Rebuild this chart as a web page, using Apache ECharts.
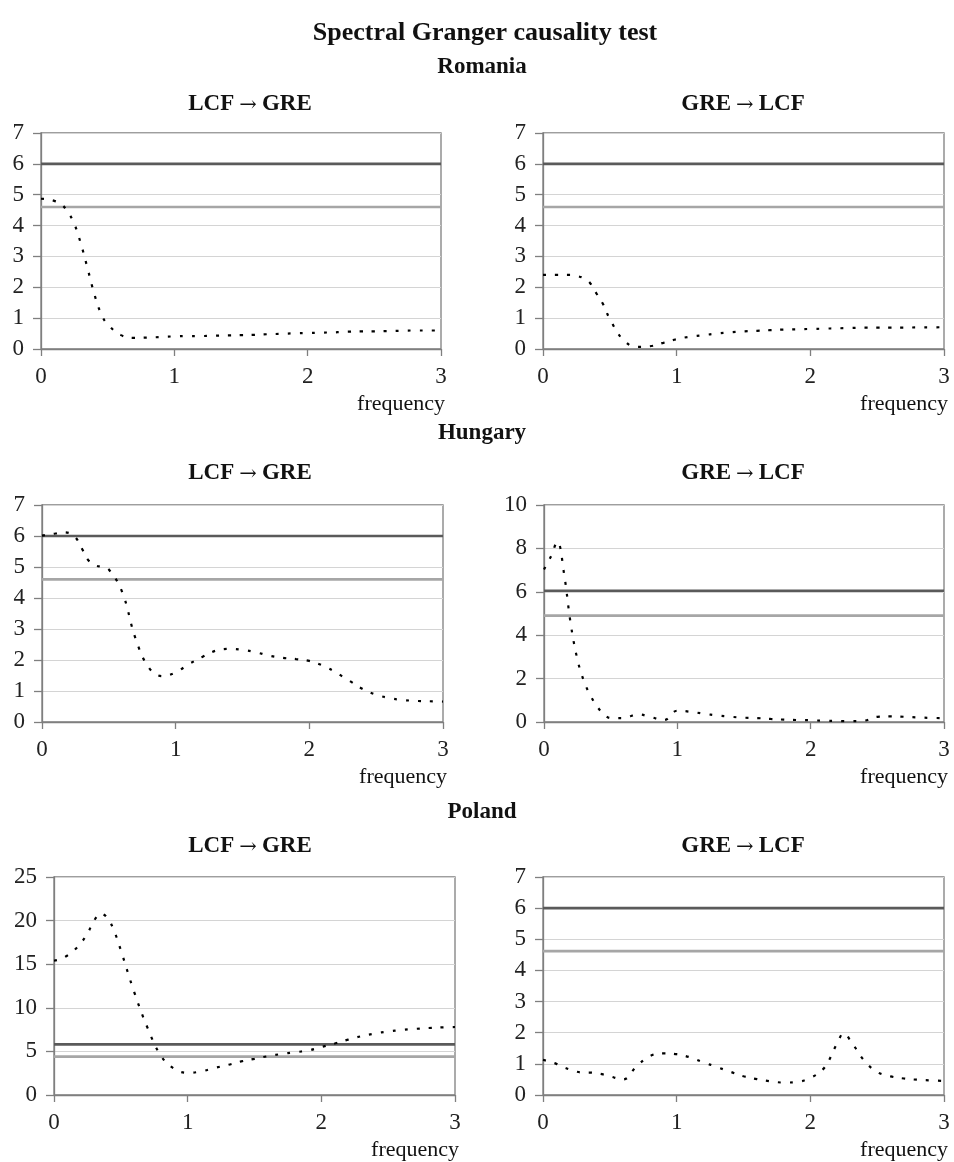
<!DOCTYPE html>
<html>
<head>
<meta charset="utf-8">
<script src="https://cdn.jsdelivr.net/npm/echarts@6/dist/echarts.min.js"></script>
<style>
  html, body { margin: 0; padding: 0; background: #fff; }
  #chart { width: 954px; height: 1162px; }
</style>
</head>
<body>
<div id="chart"></div>
<script>
// frequency grid shared by all six panels
const freq = [0, 0.05, 0.1, 0.15, 0.2, 0.25, 0.3, 0.35, 0.4, 0.45, 0.5,
  0.6, 0.7, 0.8, 0.9, 1.0, 1.1, 1.2, 1.3, 1.4, 1.5, 1.6, 1.7, 1.8, 1.9, 2.0, 2.1, 2.2,
  2.25, 2.3, 2.4, 2.5, 2.6, 2.7, 2.8, 2.9, 3.0]

const romaniaLcfGre = [4.87, 4.85, 4.8, 4.7, 4.45, 4.05, 3.4, 2.6, 1.78, 1.15, 0.8,
  0.45, 0.36, 0.37, 0.39, 0.41, 0.42, 0.42, 0.43, 0.44, 0.45, 0.46, 0.48, 0.49, 0.51, 0.52, 0.53, 0.54,
  0.55, 0.56, 0.57, 0.57, 0.58, 0.59, 0.6, 0.6, 0.6]
const romaniaGreLcf = [2.4, 2.4, 2.4, 2.4, 2.4, 2.37, 2.3, 2.15, 1.8, 1.45, 0.97,
  0.3, 0.07, 0.09, 0.2, 0.32, 0.4, 0.45, 0.5, 0.54, 0.57, 0.59, 0.61, 0.63, 0.64, 0.65, 0.66, 0.67,
  0.675, 0.68, 0.69, 0.69, 0.69, 0.69, 0.7, 0.7, 0.71]
const hungaryLcfGre = [6.01, 6.05, 6.08, 6.12, 6.1, 5.96, 5.58, 5.2, 5.05, 5.0, 4.92,
  4.19, 2.69, 1.75, 1.48, 1.6, 1.87, 2.1, 2.3, 2.36, 2.33, 2.25, 2.14, 2.07, 2.03, 1.97, 1.82, 1.6,
  1.46, 1.33, 1.06, 0.88, 0.77, 0.71, 0.68, 0.67, 0.66]
const hungaryGreLcf = [7.03, 7.6, 8.3, 6.85, 4.54, 2.9, 1.88, 1.2, 0.7, 0.35, 0.18,
  0.18, 0.36, 0.23, 0.09, 0.52, 0.47, 0.38, 0.3, 0.24, 0.2, 0.18, 0.14, 0.11, 0.09, 0.08, 0.06, 0.05,
  0.04, 0.04, 0.06, 0.24, 0.26, 0.24, 0.21, 0.19, 0.18]
const polandLcfGre = [15.4, 15.6, 16.0, 16.6, 17.4, 18.5, 20.0, 20.8, 20.3, 18.8, 16.6,
  11.8, 7.7, 4.5, 3.0, 2.55, 2.7, 3.1, 3.45, 3.85, 4.15, 4.45, 4.7, 4.9, 5.1, 5.5, 5.9, 6.35,
  6.55, 6.75, 7.05, 7.28, 7.45, 7.58, 7.68, 7.75, 7.8]
const polandGreLcf = [1.13, 1.07, 1.0, 0.9, 0.82, 0.75, 0.72, 0.72, 0.7, 0.66, 0.6,
  0.5, 0.92, 1.25, 1.34, 1.31, 1.21, 1.05, 0.9, 0.75, 0.6, 0.51, 0.44, 0.4, 0.42, 0.55, 0.85, 1.65,
  1.98, 1.75, 1.12, 0.74, 0.6, 0.53, 0.49, 0.47, 0.45]

// critical values (dark = upper, light = lower)
const critUpper = [6, 6, 6, 6.05, 5.8, 6]
const critLower = [4.6, 4.6, 4.6, 4.9, 4.4, 4.62]

const yMax = [7, 7, 7, 10, 25, 7]
const yStep = [1, 1, 1, 2, 5, 1]
const xTicks = [0, 1, 2, 3]

const panelSeries = [romaniaLcfGre, romaniaGreLcf, hungaryLcfGre, hungaryGreLcf, polandLcfGre, polandGreLcf]

const titleText = 'Spectral Granger causality test'
const countries = ['Romania', 'Hungary', 'Poland']
const directions = [['LCF', 'GRE'], ['GRE', 'LCF']]

const grids = [
  { left: 41, top: 133, width: 400, height: 216 },
  { left: 543, top: 133, width: 401, height: 216 },
  { left: 42, top: 505, width: 401, height: 217 },
  { left: 544, top: 505, width: 400, height: 217 },
  { left: 54, top: 877, width: 401, height: 218 },
  { left: 543, top: 877, width: 401, height: 218 }
]

const FONT = '"Liberation Serif", "DejaVu Serif", serif'
const frameColor = '#7f7f7f'

const option = {
  backgroundColor: '#fff',
  animation: false,
  grid: grids.map(g => Object.assign({
    show: true, borderColor: frameColor, borderWidth: 1.3, backgroundColor: 'transparent'
  }, g)),
  xAxis: grids.map((g, i) => ({
    type: 'value',
    gridIndex: i,
    min: xTicks[0],
    max: xTicks[xTicks.length - 1],
    interval: 1,
    axisLine: { show: true, lineStyle: { color: frameColor, width: 1.3 } },
    axisTick: { show: true, length: 7, lineStyle: { color: frameColor, width: 1.3 } },
    axisLabel: { margin: 16, color: '#222', fontFamily: FONT, fontSize: 23 },
    splitLine: { show: false }
  })),
  yAxis: grids.map((g, i) => ({
    type: 'value',
    gridIndex: i,
    min: 0,
    max: yMax[i],
    interval: yStep[i],
    axisLine: { show: true, lineStyle: { color: frameColor, width: 1.3 } },
    axisTick: { show: true, length: 8, lineStyle: { color: frameColor, width: 1.3 } },
    axisLabel: { margin: 17, color: '#222', fontFamily: FONT, fontSize: 23 },
    splitLine: { show: true, lineStyle: { color: '#d4d4d4', width: 1 } }
  })),
  series: [],
  graphic: []
}

panelSeries.forEach((vals, i) => {
  option.series.push({
    type: 'line', xAxisIndex: i, yAxisIndex: i, symbol: 'none', silent: true,
    data: [[0, critUpper[i]], [3, critUpper[i]]],
    lineStyle: { color: '#5a5a5a', width: 2.6 }
  })
  option.series.push({
    type: 'line', xAxisIndex: i, yAxisIndex: i, symbol: 'none', silent: true,
    data: [[0, critLower[i]], [3, critLower[i]]],
    lineStyle: { color: '#a6a6a6', width: 2.6 }
  })
  option.series.push({
    type: 'line', xAxisIndex: i, yAxisIndex: i, symbol: 'none', silent: true,
    smooth: 0.4,
    data: freq.map((f, k) => [f, vals[k]]),
    lineStyle: { color: '#000', width: 2.2, type: [3, 9], cap: 'butt' }
  })
})

function addText (text, x, y, size, weight, align, rich) {
  option.graphic.push({
    type: 'text', x: x, y: y, silent: true,
    style: {
      text: text, fill: '#111', font: `${weight} ${size}px ${FONT}`,
      align: align || 'center', verticalAlign: 'middle', rich: rich
    }
  })
}

const dirRich = {
  t: { fontFamily: FONT, fontSize: 23, fontWeight: 'bold', fill: '#111' },
  ar: { fontFamily: '"DejaVu Serif", serif', fontSize: 21, fill: '#111', padding: [3, 5, 0, 5] }
}

addText(titleText, 485, 33, 26, 'bold')
const countryY = [67, 433, 812]
const dirY = [104, 473, 846]
countries.forEach((c, r) => {
  addText(c, 482, countryY[r], 23, 'bold')
  directions.forEach((d, j) => {
    addText(`{t|${d[0]}}{ar|\u2192}{t|${d[1]}}`, j === 0 ? 250 : 743, dirY[r], 23, 'bold', 'center', dirRich)
  })
})
grids.forEach(g => {
  addText('frequency', g.left + g.width + 4, g.top + g.height + 55, 22, 'normal', 'right')
})

const chart = echarts.init(document.getElementById('chart'))
chart.setOption(option)
</script>
</body>
</html>
